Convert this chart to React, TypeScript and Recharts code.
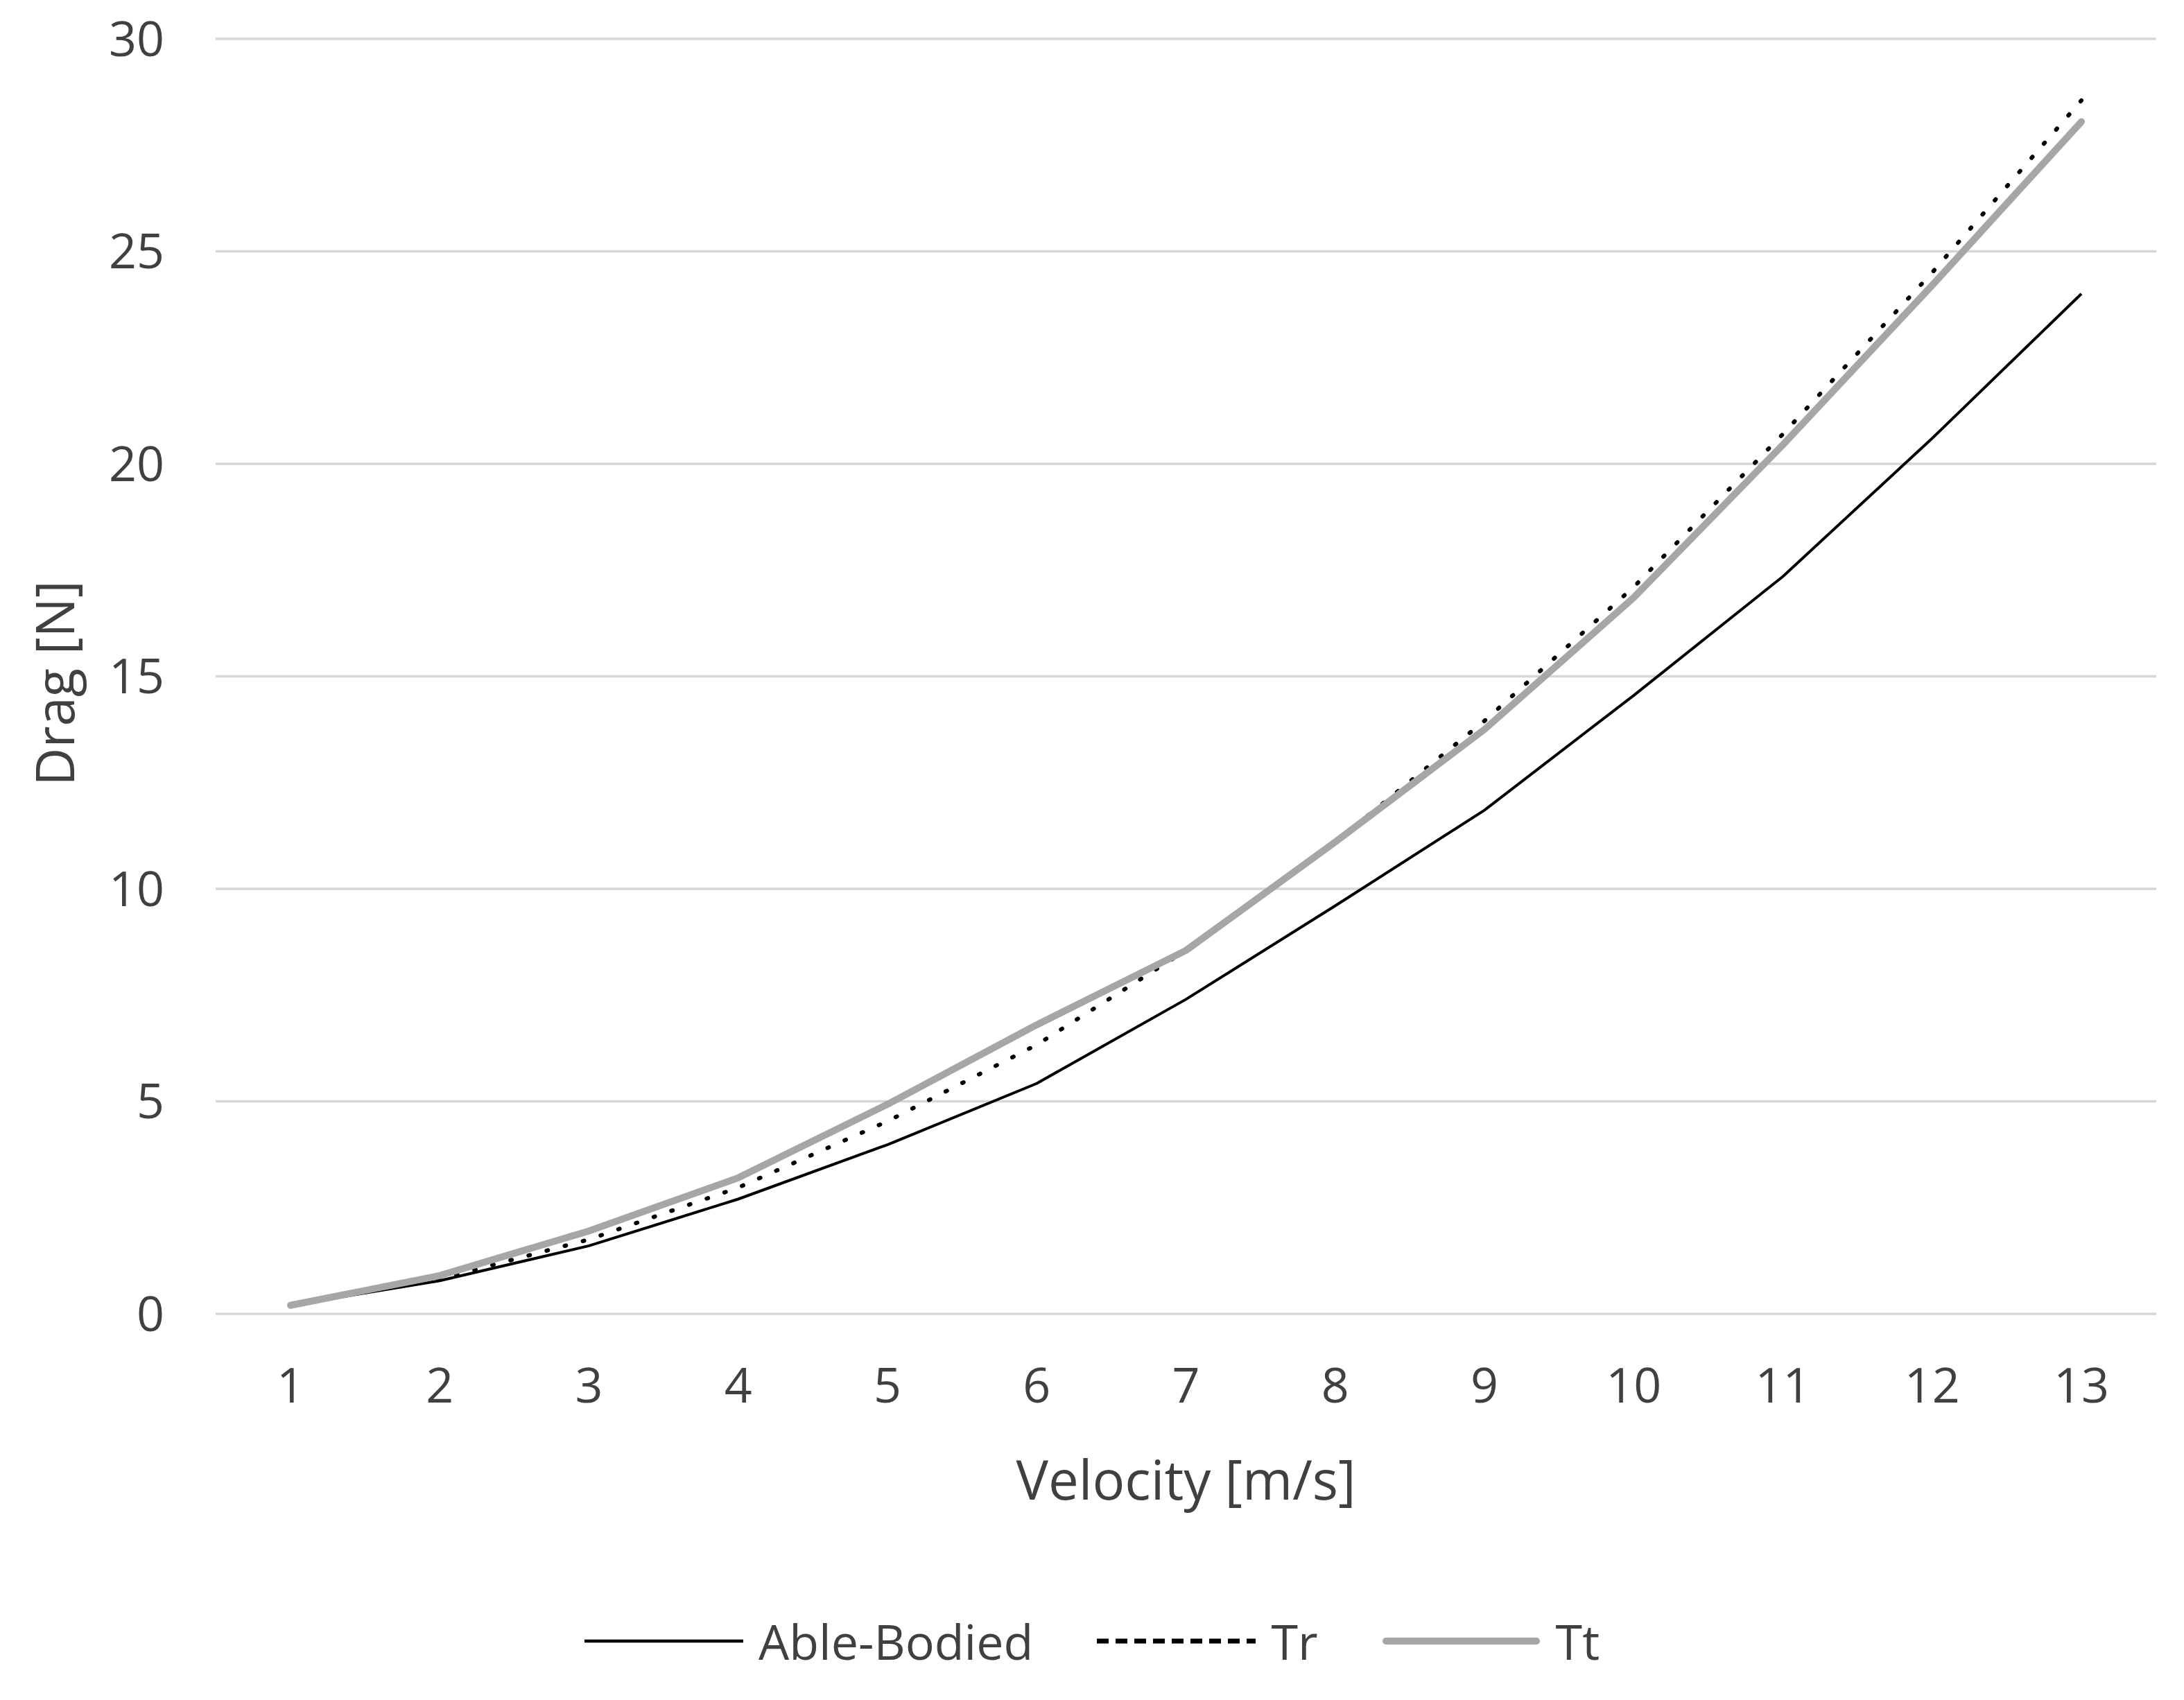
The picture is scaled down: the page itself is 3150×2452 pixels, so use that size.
import React from 'react';
import { LineChart, Line, XAxis, YAxis, CartesianGrid, Legend, Label } from 'recharts';

// ---- data ----
const velocities = [1, 2, 3, 4, 5, 6, 7, 8, 9, 10, 11, 12, 13];
const ableBodied = [0.2, 0.78, 1.6, 2.7, 3.98, 5.42, 7.4, 9.6, 11.85, 14.55, 17.35, 20.6, 24.0];
const trValues = [0.2, 0.82, 1.75, 2.97, 4.53, 6.33, 8.55, 11.1, 13.95, 17.1, 20.7, 24.5, 28.55];
const ttValues = [0.2, 0.9, 1.95, 3.2, 4.93, 6.8, 8.55, 11.1, 13.75, 16.85, 20.45, 24.2, 28.05];
const yTicks = [0, 5, 10, 15, 20, 25, 30];
const seriesNames = { ableBodied: 'Able-Bodied', tr: 'Tr', tt: 'Tt' };
const xTitle = 'Velocity [m/s]';
const yTitle = 'Drag [N]';

const data = velocities.map((v, i) => ({
  v,
  ableBodied: ableBodied[i],
  tr: trValues[i],
  tt: ttValues[i],
}));

// ---- styles ----
const FONT = '"Open Sans", "Noto Sans", sans-serif';
const TEXT = '#404040';
const GRID = '#d6d6d6';

type SeriesStyle = {
  stroke: string;
  width: number;
  dash?: string;
  cap: 'butt' | 'round';
  legendWidth: number;
  legendDash?: string;
  legendCap: 'butt' | 'round';
};

const styles: Record<string, SeriesStyle> = {
  ableBodied: { stroke: '#000000', width: 4, cap: 'butt', legendWidth: 4.5, legendCap: 'butt' },
  tr: { stroke: '#000000', width: 6, dash: '2 25', cap: 'round', legendWidth: 7, legendDash: '17 10', legendCap: 'butt' },
  tt: { stroke: '#a6a6a6', width: 10, cap: 'round', legendWidth: 10, legendCap: 'round' },
};

const renderLegend = (props: any) => {
  const payload = props.payload || [];
  return (
    <div
      style={{
        display: 'flex',
        justifyContent: 'center',
        alignItems: 'center',
        height: 70,
        fontFamily: FONT,
        fontSize: 70,
        color: TEXT,
        lineHeight: '70px',
      }}
    >
      {payload.map((entry: any, idx: number) => {
        const s = styles[entry.dataKey as string];
        return (
          <div key={idx} style={{ display: 'flex', alignItems: 'center', marginRight: idx < payload.length - 1 ? 92 : 0 }}>
            <svg width={229} height={20} style={{ display: 'block' }}>
              <line
                x1={s.legendCap === 'round' ? 6 : 0}
                y1={10}
                x2={s.legendCap === 'round' ? 223 : 229}
                y2={10}
                stroke={s.stroke}
                strokeWidth={s.legendWidth}
                strokeDasharray={s.legendDash}
                strokeLinecap={s.legendCap}
              />
            </svg>
            <span style={{ marginLeft: 22, whiteSpace: 'nowrap' }}>{entry.value}</span>
          </div>
        );
      })}
    </div>
  );
};

const YTitle = (props: any) => {
  const vb = props.viewBox || { x: 0, y: 0, width: 0, height: 0 };
  const cx = vb.x + 107;
  const cy = vb.y + vb.height / 2 + 10;
  return (
    <text
      x={cx}
      y={cy}
      transform={`rotate(-90, ${cx}, ${cy})`}
      textAnchor="middle"
      fontFamily={FONT}
      fontSize={76}
      fill={TEXT}
    >
      {yTitle}
    </text>
  );
};

const XTitle = (props: any) => {
  const vb = props.viewBox || { x: 0, y: 0, width: 0, height: 0 };
  const cx = vb.x + vb.width / 2;
  const by = vb.y + 268;
  return (
    <text x={cx} y={by} textAnchor="middle" fontFamily={FONT} fontSize={78} fill={TEXT}>
      {xTitle}
    </text>
  );
};

export default function App() {
  return (
    <div style={{ position: 'absolute', left: 0, top: 0, width: 3150, height: 2452, background: '#ffffff' }}>
      <LineChart
        width={3150}
        height={2452}
        data={data}
        margin={{ top: 56, right: 40, bottom: 0, left: 0 }}
      >
        <CartesianGrid horizontal vertical={false} stroke={GRID} strokeWidth={3.5} />
        <XAxis
          dataKey="v"
          type="category"
          height={557}
          padding={{ left: 108, right: 108 }}
          axisLine={false}
          tickLine={false}
          tickSize={0}
          tickMargin={78}
          interval={0}
          tick={{ fontSize: 70, fill: TEXT, fontFamily: FONT }}
        >
          <Label content={XTitle} />
        </XAxis>
        <YAxis
          width={311}
          domain={[0, 30]}
          ticks={yTicks}
          interval={0}
          axisLine={false}
          tickLine={false}
          tickSize={0}
          tickMargin={74}
          tick={{ fontSize: 70, fill: TEXT, fontFamily: FONT }}
        >
          <Label content={YTitle} />
        </YAxis>
        <Legend
          layout="horizontal"
          align="center"
          verticalAlign="middle"
          wrapperStyle={{ top: 2332, left: 0, width: 3150 }}
          content={renderLegend}
        />
        <Line
          type="linear"
          dataKey="ableBodied"
          name={seriesNames.ableBodied}
          stroke={styles.ableBodied.stroke}
          strokeWidth={styles.ableBodied.width}
          strokeLinecap={styles.ableBodied.cap}
          dot={false}
          activeDot={false}
          isAnimationActive={false}
        />
        <Line
          type="linear"
          dataKey="tr"
          name={seriesNames.tr}
          stroke={styles.tr.stroke}
          strokeWidth={styles.tr.width}
          strokeDasharray={styles.tr.dash}
          strokeLinecap={styles.tr.cap}
          dot={false}
          activeDot={false}
          isAnimationActive={false}
        />
        <Line
          type="linear"
          dataKey="tt"
          name={seriesNames.tt}
          stroke={styles.tt.stroke}
          strokeWidth={styles.tt.width}
          strokeLinecap={styles.tt.cap}
          strokeLinejoin="round"
          dot={false}
          activeDot={false}
          isAnimationActive={false}
        />
      </LineChart>
    </div>
  );
}
